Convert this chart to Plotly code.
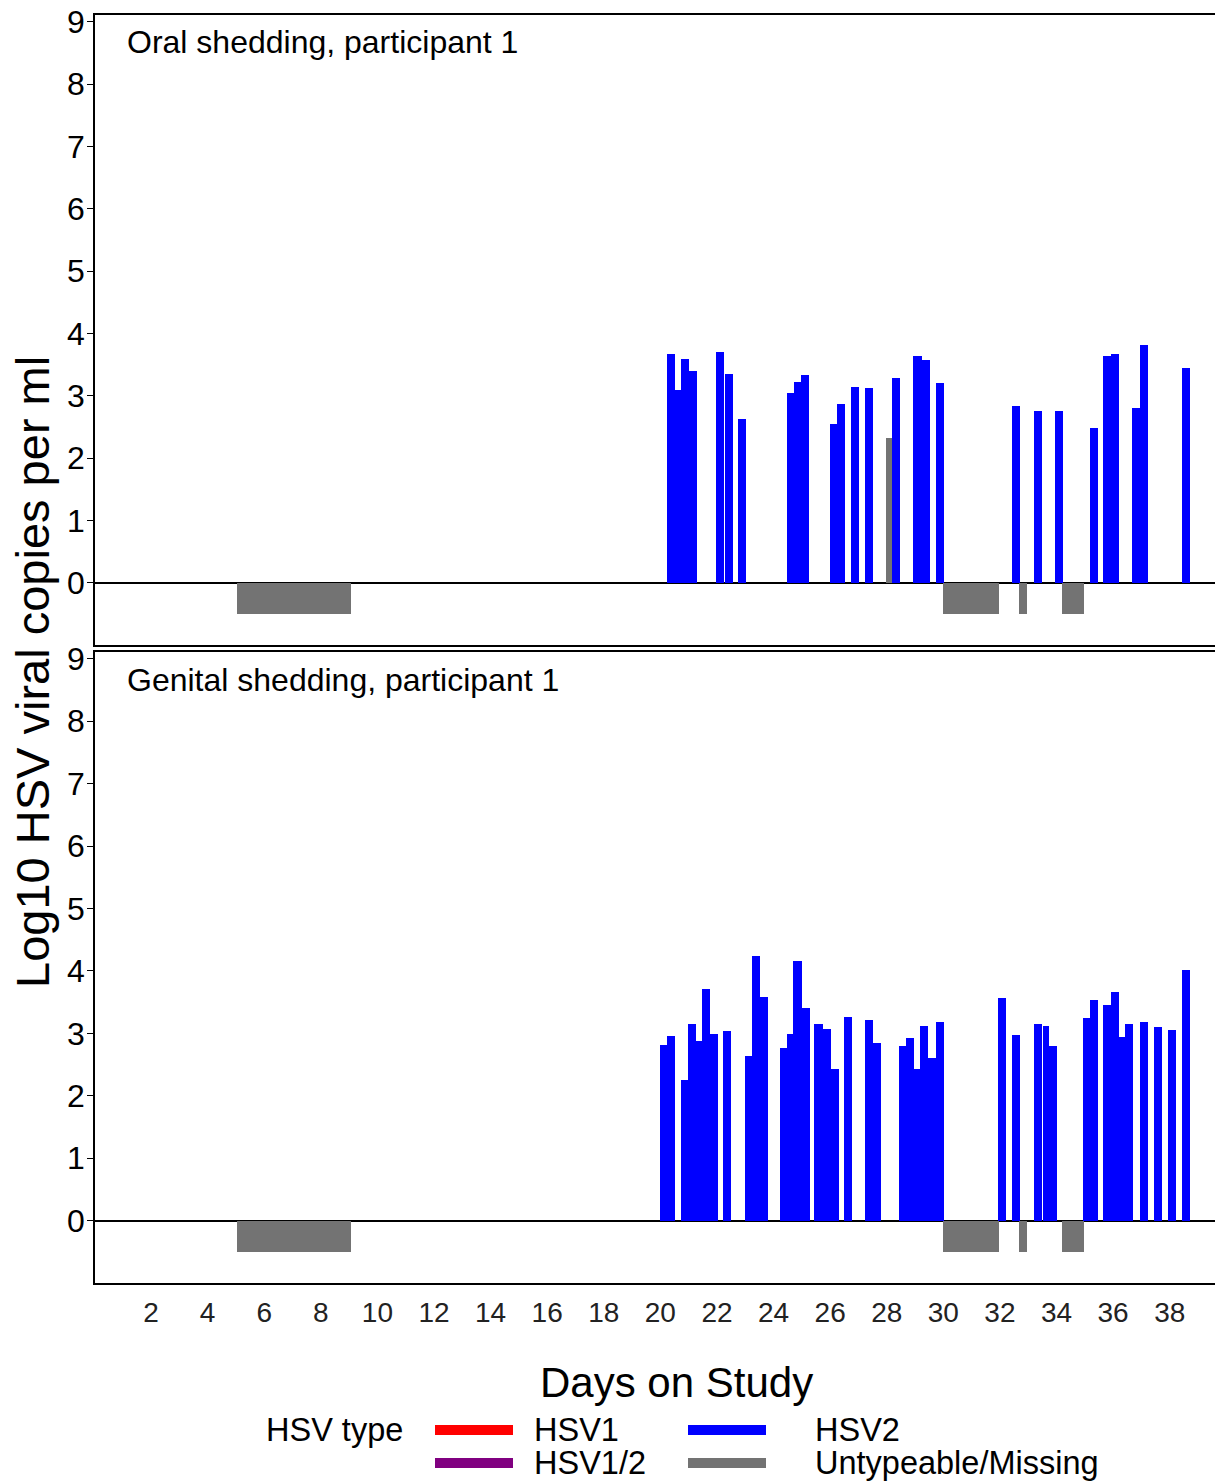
import plotly.graph_objects as go

# ---- oral swabs (participant 1) ----
oral_day = [20.22, 20.52, 20.72, 21.01, 21.95, 22.28, 22.73, 24.46, 24.72, 24.96,
            25.99, 26.23, 26.72, 27.22, 27.96, 28.19, 28.94, 29.23, 29.73, 32.41,
            33.21, 33.94, 35.18, 35.65, 35.91, 36.65, 36.95, 38.42]
oral_log = [3.67, 3.10, 3.59, 3.40, 3.71, 3.35, 2.62, 3.04, 3.22, 3.34,
            2.54, 2.87, 3.14, 3.12, 2.32, 3.29, 3.63, 3.57, 3.21, 2.83,
            2.76, 2.76, 2.48, 3.63, 3.67, 2.81, 3.81, 3.45]
oral_type = ["HSV2"] * 14 + ["Untypeable/Missing"] + ["HSV2"] * 13

# ---- genital swabs (participant 1) ----
genital_day = [19.99, 20.24, 20.72, 20.96, 21.26, 21.48, 21.75, 22.20, 22.99, 23.23,
               23.52, 24.23, 24.46, 24.70, 24.99, 25.44, 25.73, 26.03, 26.48, 27.22,
               27.50, 28.44, 28.68, 28.96, 29.17, 29.47, 29.73, 31.94, 32.41, 33.21,
               33.51, 33.74, 34.92, 35.18, 35.65, 35.91, 36.20, 36.42, 36.95, 37.44,
               37.93, 38.42]
genital_log = [2.82, 2.95, 2.26, 3.15, 2.88, 3.71, 2.99, 3.04, 2.63, 4.24,
               3.59, 2.77, 2.99, 4.16, 3.41, 3.15, 3.07, 2.43, 3.26, 3.21,
               2.85, 2.79, 2.93, 2.43, 3.12, 2.61, 3.18, 3.57, 2.98, 3.15,
               3.12, 2.79, 3.24, 3.54, 3.46, 3.66, 2.94, 3.15, 3.18, 3.10,
               3.05, 4.02]
genital_type = ["HSV2"] * len(genital_day)

# ---- periods without a swab result (same for both sites) ----
missing_start = [5.03, 29.97, 32.66, 34.20]
missing_end = [9.07, 31.98, 32.97, 34.98]

day_ticks = list(range(2, 40, 2))
log_ticks = list(range(0, 10))

# ---- styling ----
COLORS = {"HSV1": "#FF0000", "HSV1/2": "#800080",
          "HSV2": "#0000FF", "Untypeable/Missing": "#737373"}
SAMPLE_WIDTH = 0.29      # max bar width (days) for a single swab
MISSING_LEVEL = -0.5     # missing periods are drawn below zero
FONT = "Liberation Sans, Arial, sans-serif"

W, H = 1215, 1484
L, R, T, B = 95, 0, 15, 201
PW, PH = W - L - R, H - T - B


def px(x):
    return (x - L) / PW


def py(y):
    return 1 - (y - T) / PH


def sample_widths(days):
    out = []
    for i, d in enumerate(days):
        nxt = days[i + 1] if i + 1 < len(days) else d + SAMPLE_WIDTH
        out.append(min(SAMPLE_WIDTH, nxt - d))
    return out


fig = go.Figure()


def add_panel(days, logs, types, xa, ya):
    widths = sample_widths(days)
    for kind in ["HSV2", "Untypeable/Missing"]:
        idx = [i for i, t in enumerate(types) if t == kind]
        if not idx:
            continue
        fig.add_trace(go.Bar(
            x=[days[i] for i in idx], y=[logs[i] for i in idx],
            width=[widths[i] for i in idx], offset=0,
            marker=dict(color=COLORS[kind], line=dict(width=0)),
            xaxis=xa, yaxis=ya, showlegend=False, name=kind))
    fig.add_trace(go.Bar(
        x=missing_start, y=[MISSING_LEVEL] * len(missing_start),
        width=[e - s for s, e in zip(missing_start, missing_end)], offset=0,
        marker=dict(color=COLORS["Untypeable/Missing"], line=dict(width=0)),
        xaxis=xa, yaxis=ya, showlegend=False, name="Missing"))


add_panel(oral_day, oral_log, oral_type, "x", "y")
add_panel(genital_day, genital_log, genital_type, "x2", "y2")

xcommon = dict(range=[0.02, 39.6], showline=True, linecolor="black", linewidth=1.5,
               mirror=True, ticks="", showgrid=False, zeroline=False,
               tickvals=day_ticks, ticktext=[str(d) for d in day_ticks],
               tickfont=dict(family=FONT, size=28, color="#222222"))
ycommon = dict(range=[-1.0, 9.11], showline=True, linecolor="black", linewidth=1.5,
               mirror=False, ticks="outside", ticklen=6, tickwidth=1.2, tickcolor="black",
               tickvals=log_ticks, showgrid=False,
               zeroline=True, zerolinecolor="black", zerolinewidth=1.5,
               tickfont=dict(family=FONT, size=32, color="black"), ticklabelstandoff=-4)

top_lo = 1 - 630 / PH
bot_hi = 631 / PH

fig.update_layout(
    width=W, height=H, margin=dict(l=L, r=R, t=T, b=B),
    paper_bgcolor="white", plot_bgcolor="white",
    barmode="overlay", bargap=0,
    xaxis=dict(xcommon, anchor="y", showticklabels=False),
    yaxis=dict(ycommon, domain=[top_lo, 1], anchor="x"),
    xaxis2=dict(xcommon, anchor="y2", matches="x", showticklabels=True, ticklabelstandoff=4),
    yaxis2=dict(ycommon, domain=[0, bot_hi], anchor="x2"),
    font=dict(family=FONT, color="black"),
)

ann = []
ann.append(dict(text="Oral shedding, participant 1", x=px(125), y=py(42),
                xanchor="left", yanchor="middle", font=dict(size=32)))
ann.append(dict(text="Genital shedding, participant 1", x=px(125), y=py(680),
                xanchor="left", yanchor="middle", font=dict(size=32)))
ann.append(dict(text="Log10 HSV viral copies per ml", x=px(32), y=py(672),
                textangle=-90, xanchor="center", yanchor="middle", font=dict(size=47)))
ann.append(dict(text="Days on Study", x=px(676), y=py(1382),
                xanchor="center", yanchor="middle", font=dict(size=42)))

# legend block
row1, row2 = 1430, 1463
ann.append(dict(text="HSV type", x=px(264), y=py(row1), xanchor="left",
                yanchor="middle", font=dict(size=32.5)))
legend_items = [("HSV1", 435, 532, row1), ("HSV1/2", 435, 532, row2),
                ("HSV2", 688, 813, row1), ("Untypeable/Missing", 688, 813, row2)]
shapes = []
for name, sx, tx, ry in legend_items:
    shapes.append(dict(type="line", xref="paper", yref="paper",
                       x0=px(sx), x1=px(sx + 78), y0=py(ry), y1=py(ry),
                       line=dict(color=COLORS[name], width=10)))
    ann.append(dict(text=name, x=px(tx), y=py(ry), xanchor="left",
                    yanchor="middle", font=dict(size=32.5)))

for a in ann:
    a.update(xref="paper", yref="paper", showarrow=False)
    a["font"].update(family=FONT, color="black")

fig.update_layout(annotations=ann, shapes=shapes)

fig.write_html("out.html")
